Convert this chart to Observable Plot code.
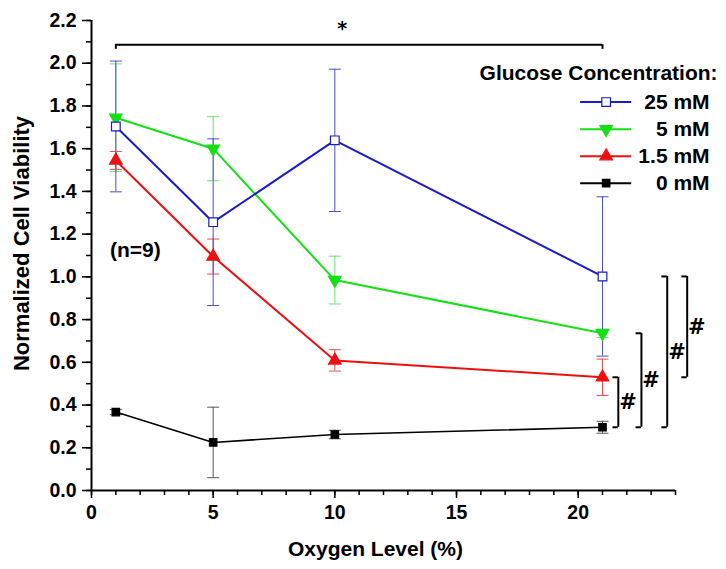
<!DOCTYPE html>
<html>
<head>
<meta charset="utf-8">
<script src="https://cdn.jsdelivr.net/npm/d3@7"></script>
<script src="https://cdn.jsdelivr.net/npm/@observablehq/plot@0.6"></script>
<style>
  html, body { margin: 0; padding: 0; background: #fff; }
  svg { font-family: "Liberation Sans", Arial, sans-serif; }
</style>
</head>
<body>
<div id="chart"></div>
<script>
// ---- Data ----
const oxygen = [1, 5, 10, 21];
const seriesNames = ["25 mM", "5 mM", "1.5 mM", "0 mM"];
const glucose25 = [1.704, 1.256, 1.639, 1.002];
const sem25     = [0.306, 0.390, 0.333, 0.373];
const glucose5  = [1.745, 1.600, 0.985, 0.736];
const sem5      = [0.252, 0.150, 0.112, 0.020];
const glucose15 = [1.545, 1.095, 0.609, 0.530];
const sem15     = [0.042, 0.082, 0.050, 0.085];
const glucose0  = [0.367, 0.225, 0.262, 0.296];
const sem0      = [0.012, 0.165, 0.020, 0.028];

const xTicksMajor = [0, 5, 10, 15, 20];
const yTicksMajor = [0, 0.2, 0.4, 0.6, 0.8, 1.0, 1.2, 1.4, 1.6, 1.8, 2.0, 2.2];

const legendTitle = "Glucose Concentration:";
const yTitle = "Normalized Cell Viability";
const xTitle = "Oxygen Level (%)";
const nLabel = "(n=9)";

// significance annotations
const starLabel = "*";
const hashLabel = "#";
const bracketX = [21.65, 22.6, 23.66, 24.48];
const bracketTop = [glucose15[3], glucose5[3], glucose25[3], glucose25[3]];
const bracketBottom = [glucose0[3], glucose0[3], glucose0[3], glucose15[3]];

// ---- Styles ----
const lineColors = ["#1a1acc", "#14e014", "#ee1010", "#000000"];
const barColors  = ["#4d4dd6", "#6ee06e", "#f04a4a", "#555555"];
const symbols    = ["square", "triangle", "triangle", "square"];
const rotations  = [0, 180, 0, 0];
const fills      = ["#ffffff", "#14e014", "#ee1010", "#000000"];
const radii      = [4.9, 4.7, 4.7, 4.2];

const means = [glucose25, glucose5, glucose15, glucose0];
const sems = [sem25, sem5, sem15, sem0];

const rows = [];
means.forEach((arr, s) => arr.forEach((v, i) => rows.push({
  s, name: seriesNames[s], x: oxygen[i], y: v, lo: v - sems[s][i], hi: v + sems[s][i]
})));

const capSymbol = {
  draw(ctx, size) {
    const w = Math.sqrt(size / Math.PI);
    ctx.moveTo(-w, 0); ctx.lineTo(w, 0);
  }
};

// legend layout (in data units of the chart)
const legendRows = seriesNames.map((name, s) => ({
  s, name, y: 1.818 - s * 0.1265, x1: 20.1, x2: 22.2, xm: 21.15, xt: 25.4
}));

const brackets = bracketX.map((x, i) => ({
  x, top: bracketTop[i], bottom: bracketBottom[i], mid: (bracketTop[i] + bracketBottom[i]) / 2
}));

const font = "Liberation Sans, Arial, sans-serif";

const marks = [];

// axes
marks.push(
  Plot.axisX({ticks: d3.range(0, 25, 1), tickSize: 5, tickFormat: () => "", strokeWidth: 1.5}),
  Plot.axisX({ticks: xTicksMajor, tickSize: 8, tickPadding: 7, fontSize: 19.5, fontWeight: "bold", strokeWidth: 1.5, label: null}),
  Plot.axisY({ticks: d3.range(0, 23).map(i => i / 10), tickSize: 5, tickFormat: () => "", strokeWidth: 1.5}),
  Plot.axisY({ticks: yTicksMajor, tickSize: 9, tickPadding: 6, fontSize: 19.5, fontWeight: "bold", tickFormat: d3.format(".1f"), strokeWidth: 1.5, label: null}),
  Plot.ruleX([0], {strokeWidth: 2}),
  Plot.ruleY([0], {strokeWidth: 2})
);

// error bars (drawn per series from the back)
for (let s = 3; s >= 0; s--) {
  const d = rows.filter(r => r.s === s);
  marks.push(
    Plot.ruleX(d, {x: "x", y1: "lo", y2: "hi", stroke: barColors[s], strokeWidth: 1}),
    Plot.dot(d, {x: "x", y: "hi", symbol: capSymbol, r: 6, stroke: barColors[s], fill: "none", strokeWidth: 1}),
    Plot.dot(d, {x: "x", y: "lo", symbol: capSymbol, r: 6, stroke: barColors[s], fill: "none", strokeWidth: 1})
  );
}
// lines
for (let s = 3; s >= 0; s--) {
  const d = rows.filter(r => r.s === s);
  marks.push(Plot.line(d, {x: "x", y: "y", stroke: lineColors[s], strokeWidth: s === 3 ? 1.6 : 2}));
}
// markers
for (let s = 3; s >= 0; s--) {
  const d = rows.filter(r => r.s === s);
  marks.push(Plot.dot(d, {x: "x", y: "y", symbol: symbols[s], rotate: rotations[s], r: radii[s],
    fill: fills[s], stroke: lineColors[s], strokeWidth: 1.2}));
}

// top bracket with asterisk
const topY = 2.087, topTick = 2.065;
marks.push(
  Plot.ruleY([topY], {x1: oxygen[0], x2: oxygen[3], strokeWidth: 2}),
  Plot.ruleX([oxygen[0], oxygen[3]], {y1: topTick, y2: topY, strokeWidth: 2}),
  Plot.text([starLabel], {x: 10.3, y: 2.16, fontSize: 19, fontWeight: "bold", fontFamily: "DejaVu Sans"})
);

// right-side significance brackets
marks.push(
  Plot.ruleX(brackets, {x: "x", y1: "bottom", y2: "top", strokeWidth: 2}),
  Plot.ruleY(brackets, {y: "top", x1: d => d.x - 0.22, x2: "x", strokeWidth: 2}),
  Plot.ruleY(brackets, {y: "bottom", x1: d => d.x - 0.22, x2: "x", strokeWidth: 2}),
  Plot.text(brackets, {x: d => d.x + 0.4, y: "mid", text: () => hashLabel, fontSize: 21, fontWeight: "bold", fontFamily: "DejaVu Sans", fill: "#000"})
);

// n label
marks.push(Plot.text([nLabel], {x: 1.8, y: 1.124, fontSize: 21, fontWeight: "bold", fontFamily: font}));

// legend
marks.push(
  Plot.text([legendTitle], {x: 25.73, y: 1.952, textAnchor: "end", fontSize: 21, fontWeight: "bold", fontFamily: font}),
  Plot.ruleY(legendRows, {y: "y", x1: "x1", x2: "x2", stroke: d => lineColors[d.s], strokeWidth: 2}),
  ...legendRows.map(r => Plot.dot([r], {x: "xm", y: "y", symbol: symbols[r.s], rotate: rotations[r.s], r: radii[r.s],
    fill: fills[r.s], stroke: lineColors[r.s], strokeWidth: 1.2})),
  Plot.text(legendRows, {x: "xt", y: "y", text: "name", textAnchor: "end", fontSize: 21, fontWeight: "bold", fontFamily: font})
);

// axis titles
marks.push(
  Plot.text([yTitle], {frameAnchor: "left", textAnchor: "middle", lineAnchor: "middle", rotate: -90, dx: -70, dy: -12, fontSize: 22, fontWeight: "bold", fontFamily: font}),
  Plot.text([xTitle], {frameAnchor: "bottom", textAnchor: "middle", lineAnchor: "middle", dx: -8, dy: 59, fontSize: 21, fontWeight: "bold", fontFamily: font})
);

const chart = Plot.plot({
  width: 726,
  height: 569,
  marginTop: 20,
  marginRight: 51,
  marginBottom: 79,
  marginLeft: 91,
  style: {fontFamily: font, background: "#fff", overflow: "visible"},
  x: {domain: [0, 24], axis: null},
  y: {domain: [0, 2.2], axis: null},
  marks
});
document.getElementById("chart").appendChild(chart);
</script>
</body>
</html>
